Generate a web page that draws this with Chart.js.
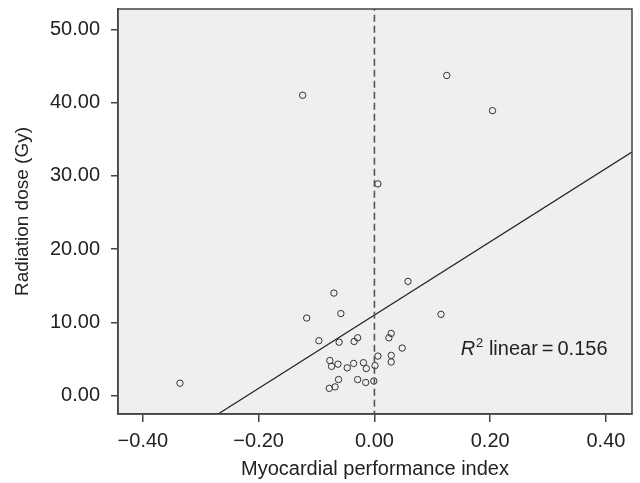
<!DOCTYPE html>
<html><head><meta charset="utf-8">
<script src="https://cdn.jsdelivr.net/npm/chart.js@4"></script>
<style>html,body{margin:0;padding:0;background:#fff}#wrap{width:640px;height:483px;position:relative}</style>
</head><body><div id="wrap"><canvas id="c"></canvas></div>
<script>
// Myocardial performance index (x) vs Radiation dose in Gy (y)
const mpi  = [-0.336,-0.124, 0.125, 0.204, 0.006, 0.058,-0.070,-0.117,-0.058, 0.115,
              -0.096,-0.061,-0.035,-0.029, 0.029, 0.025, 0.048, 0.006, 0.029, 0.029,
              -0.077,-0.074,-0.063,-0.047,-0.036,-0.019,-0.014, 0.001,-0.062,-0.068,
              -0.078,-0.029,-0.015,-0.001];
const dose = [ 1.7, 41.0, 43.7, 38.9, 28.9, 15.6, 14.0, 10.6, 11.2, 11.1,
               7.5,  7.3,  7.4,  7.9,  8.5,  7.9,  6.5,  5.4,  5.5,  4.6,
               4.8,  4.0,  4.3,  3.8,  4.4,  4.5,  3.7,  4.1,  2.2,  1.2,
               1.0,  2.2,  1.8,  2.0];
// linear fit line end points
const fitX = [-0.30, 0.45];
const fitY = [-4.0, 33.5];
// reference line at x = 0
const refX = [0, 0];
const refY = [-3, 54];
const xTicks = [-0.4, -0.2, 0, 0.2, 0.4];
const yTicks = [0, 10, 20, 30, 40, 50];
const xRange = [-0.443, 0.445];
const yRange = [-2.5, 52.77];
const rSquaredLabel = '0.156';

const FONT = '"Liberation Sans", Arial, Helvetica, sans-serif';
const TXT = '#222';
const AX = '#444';

const fmtX = v => (v < 0 ? '\u2212' : '') + Math.abs(v).toFixed(2);
const fmtY = v => v.toFixed(2);

const frame = {
  id: 'frame',
  beforeDraw(chart) {
    const {ctx, chartArea: a} = chart;
    ctx.save();
    ctx.fillStyle = '#eeefee';
    ctx.fillRect(a.left, a.top, a.right - a.left, a.bottom - a.top);
    ctx.restore();
  },
  afterDraw(chart) {
    const {ctx, chartArea: a, scales} = chart;
    ctx.save();
    ctx.strokeStyle = AX;
    ctx.lineWidth = 1.5;
    ctx.strokeRect(a.left, a.top, a.right - a.left, a.bottom - a.top);
    // R^2 annotation
    let x = scales.x.getPixelForValue(0.149);
    const y = scales.y.getPixelForValue(5.5);
    ctx.fillStyle = TXT;
    ctx.textBaseline = 'alphabetic';
    ctx.font = 'italic 20px ' + FONT;
    ctx.fillText('R', x, y);
    x += ctx.measureText('R').width + 1;
    ctx.font = '13px ' + FONT;
    ctx.fillText('2', x, y - 8);
    x += ctx.measureText('2').width;
    ctx.font = '20px ' + FONT;
    ctx.fillText(' linear\u2009=\u2009' + rSquaredLabel, x, y);
    ctx.restore();
  }
};

new Chart(document.getElementById('c'), {
  type: 'scatter',
  data: {
    datasets: [
      {
        label: 'ref',
        type: 'line',
        data: refX.map((v, i) => ({x: v, y: refY[i]})),
        borderColor: '#555',
        borderWidth: 1.6,
        borderDash: [7, 4],
        pointRadius: 0,
        fill: false
      },
      {
        label: 'fit',
        type: 'line',
        data: fitX.map((v, i) => ({x: v, y: fitY[i]})),
        borderColor: '#222',
        borderWidth: 1.2,
        pointRadius: 0,
        fill: false
      },
      {
        label: 'points',
        data: mpi.map((v, i) => ({x: v, y: dose[i]})),
        pointRadius: 3.2,
        pointBorderWidth: 1,
        borderColor: '#333',
        backgroundColor: 'rgba(0,0,0,0)'
      }
    ]
  },
  options: {
    responsive: true,
    maintainAspectRatio: false,
    animation: false,
    layout: {padding: {left: 7, top: 9, right: 8, bottom: 0}},
    plugins: {legend: {display: false}, tooltip: {enabled: false}},
    scales: {
      x: {
        type: 'linear',
        min: xRange[0], max: xRange[1],
        afterBuildTicks: s => { s.ticks = xTicks.map(v => ({value: v})); },
        afterFit: s => { s.height = 69; s.paddingLeft = 0; s.paddingRight = 0; },
        grid: {drawOnChartArea: false, drawTicks: true, tickLength: 8, color: AX, lineWidth: 1.5},
        border: {display: true, color: AX, width: 1.5},
        ticks: {color: TXT, font: {family: FONT, size: 20}, padding: 7, callback: v => fmtX(v), maxRotation: 0},
        title: {display: true, text: 'Myocardial performance index', color: TXT, font: {family: FONT, size: 20, lineHeight: 1.0}}
      },
      y: {
        type: 'linear',
        min: yRange[0], max: yRange[1],
        afterBuildTicks: s => { s.ticks = yTicks.map(v => ({value: v})); },
        afterFit: s => { s.width = 111; s.paddingTop = 0; s.paddingBottom = 0; },
        grid: {drawOnChartArea: false, drawTicks: true, tickLength: 7, color: AX, lineWidth: 1.5},
        border: {display: true, color: AX, width: 1.5},
        ticks: {color: TXT, font: {family: FONT, size: 20}, padding: 11, callback: v => fmtY(v)},
        title: {display: true, text: 'Radiation dose (Gy)', color: TXT, font: {family: FONT, size: 19}}
      }
    }
  },
  plugins: [frame]
});
</script>
</body></html>
